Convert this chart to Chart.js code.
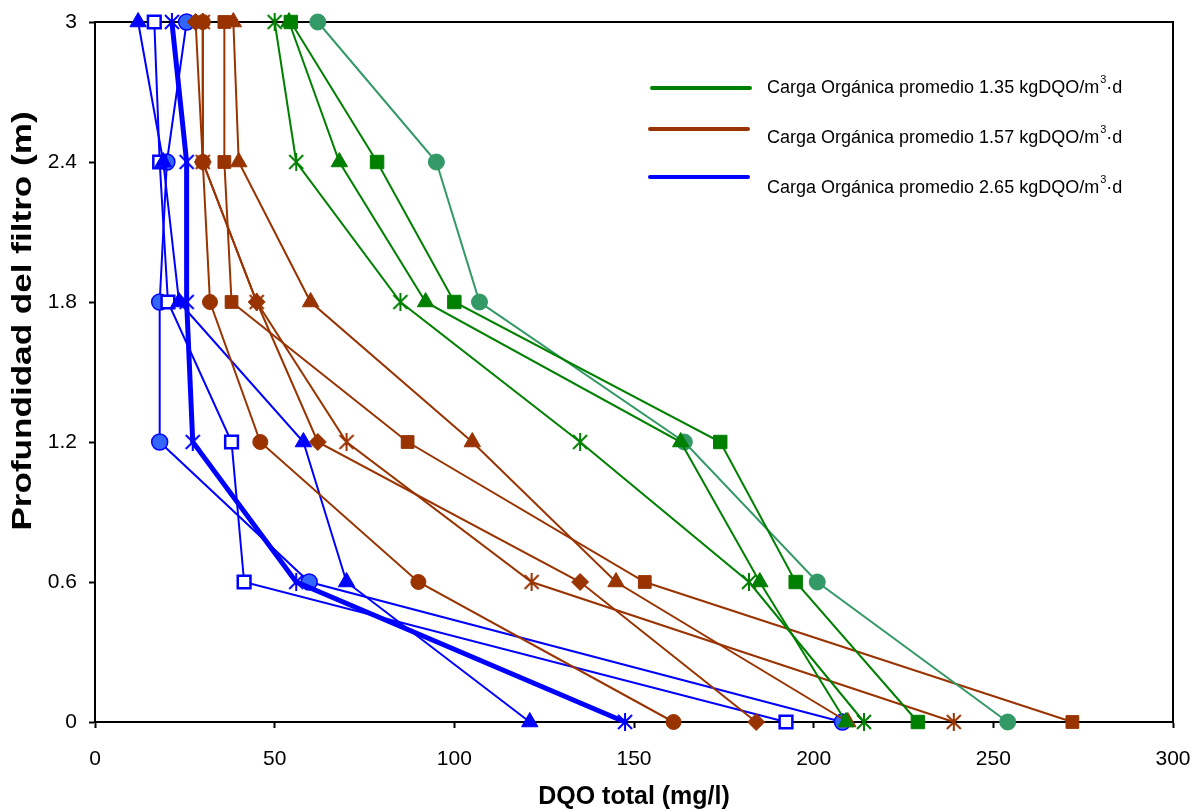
<!DOCTYPE html>
<html>
<head>
<meta charset="utf-8">
<title>DQO total vs profundidad</title>
<script src="https://cdn.jsdelivr.net/npm/chart.js@4.4.1/dist/chart.umd.min.js"></script>
<style>
  body { margin: 0; background: #fff; }
  #wrap { width: 1196px; height: 812px; }
</style>
</head>
<body>
<div id="wrap"><canvas id="chart" width="1196" height="812"></canvas></div>
<script>
// Depth levels (m) and axis ticks
const depths = [3, 2.4, 1.8, 1.2, 0.6, 0];
const xTicks = [0, 50, 100, 150, 200, 250, 300];
const yTicks = [0, 0.6, 1.2, 1.8, 2.4, 3];

// DQO total (mg/l) per depth - carga 1.35
const verdeAsterisco = [50, 56, 85, 135, 182, 214];
const verdeTriangulo = [54, 68, 92, 163, 185, 209];
const verdeCuadrado = [54.5, 78.5, 100, 174, 195, 229];
const verdeCirculo = [62, 95, 107, 164, 201, 254];

// carga 1.57
const marronCirculo = [30, 30, 32, 46, 90, 161];
const marronCuadrado = [36, 36, 38, 87, 153, 272];
const marronTriangulo = [38.5, 40, 60, 105, 145, 209.5];
const marronAsterisco = [30, 30, 45, 70, 121.5, 239];
const marronRombo = [28, 30, 45, 62, 135, 184];

// carga 2.65
const azulTriangulo = [12, 19, 23.4, 58, 70, 121];
const azulCuadrado = [16.5, 18, 20.3, 38, 41.5, 192.3];
const azulAsterisco = [21.4, 25.5, 25.5, 27.2, 56, 147.5];
const azulCirculo = [25.5, 20, 18, 18, 59.6, 208];

const legendLabels = [
  'Carga Orgánica promedio 1.35 kgDQO/m',
  'Carga Orgánica promedio 1.57 kgDQO/m',
  'Carga Orgánica promedio 2.65 kgDQO/m'
];
const xTitle = 'DQO total (mg/l)';
const yTitle = 'Profundidad del filtro (m)';

const GREEN = '#008000', TEAL = '#339966', BROWN = '#993300', BLUE = '#0000ff', LBLUE = '#3366ff';
const FONT = '"Liberation Sans", Arial, sans-serif';

// Excel-like asterisk marker (X + vertical bar)
function asterisk(color, size) {
  const c = document.createElement('canvas');
  c.width = c.height = size;
  const g = c.getContext('2d');
  g.strokeStyle = color;
  g.lineWidth = 2;
  g.beginPath();
  g.moveTo(2, 2); g.lineTo(size - 2, size - 2);
  g.moveTo(size - 2, 2); g.lineTo(2, size - 2);
  g.moveTo(size / 2, 0); g.lineTo(size / 2, size);
  g.stroke();
  return c;
}

function serie(values, color, style, opts = {}) {
  return Object.assign({
    data: values.map((v, i) => ({ x: v, y: depths[i] })),
    borderColor: color,
    borderWidth: 2,
    pointStyle: style,
    pointRadius: 8,
    pointBackgroundColor: color,
    pointBorderColor: color,
    pointBorderWidth: 1,
    clip: false,
    showLine: true
  }, opts);
}

const datasets = [
  serie(verdeAsterisco, GREEN, asterisk(GREEN, 18)),
  serie(verdeTriangulo, GREEN, 'triangle', { pointRadius: 9.5 }),
  serie(verdeCuadrado, GREEN, 'rect', { pointRadius: 9.5 }),
  serie(verdeCirculo, TEAL, 'circle', { pointRadius: 8 }),
  serie(marronCirculo, BROWN, 'circle', { pointRadius: 7.5 }),
  serie(marronCuadrado, BROWN, 'rect', { pointRadius: 9 }),
  serie(marronTriangulo, BROWN, 'triangle', { pointRadius: 9.5 }),
  serie(marronAsterisco, BROWN, asterisk(BROWN, 18)),
  serie(marronRombo, BROWN, 'rectRot', { pointRadius: 8.5 }),
  serie(azulTriangulo, BLUE, 'triangle', { pointRadius: 9.5 }),
  serie(azulCuadrado, BLUE, 'rect', { pointRadius: 9, pointBackgroundColor: '#fff', pointBorderWidth: 2.5 }),
  serie(azulAsterisco, BLUE, asterisk(BLUE, 18), { borderWidth: 5 }),
  serie(azulCirculo, BLUE, 'circle', { pointBackgroundColor: LBLUE, pointBorderWidth: 1.5 })
];

// top/right frame of the plot area
const framePlugin = {
  id: 'frame',
  beforeDatasetsDraw(chart) {
    const { ctx, chartArea: a } = chart;
    ctx.save();
    ctx.strokeStyle = '#000';
    ctx.lineWidth = 2;
    ctx.beginPath();
    ctx.moveTo(a.left, a.top);
    ctx.lineTo(a.right, a.top);
    ctx.lineTo(a.right, a.bottom);
    ctx.stroke();
    ctx.restore();
  }
};

// rotated y title, a bit stretched along its length like the original
const yTitlePlugin = {
  id: 'yTitle',
  afterDraw(chart) {
    const ctx = chart.ctx;
    ctx.save();
    ctx.translate(24, 321);
    ctx.rotate(-Math.PI / 2);
    ctx.scale(1.3, 1);
    ctx.font = 'bold 27px ' + FONT;
    ctx.fillStyle = '#000';
    ctx.textAlign = 'center';
    ctx.textBaseline = 'middle';
    ctx.fillText(yTitle, 0, 0);
    ctx.restore();
  }
};

// legend: coloured line + label with superscript 3
const legendPlugin = {
  id: 'legendLines',
  afterDraw(chart) {
    const ctx = chart.ctx;
    const colors = [GREEN, BROWN, BLUE];
    const lineY = [88, 129, 177];
    const textY = [93, 143, 193];
    ctx.save();
    legendLabels.forEach((label, i) => {
      ctx.strokeStyle = colors[i];
      ctx.lineWidth = 4;
      ctx.lineCap = 'round';
      ctx.beginPath();
      ctx.moveTo(i === 0 ? 652 : 650, lineY[i]);
      ctx.lineTo(i === 0 ? 750 : 748, lineY[i]);
      ctx.stroke();
      ctx.fillStyle = '#000';
      ctx.textBaseline = 'alphabetic';
      ctx.font = '18px ' + FONT;
      let x = 767;
      ctx.fillText(label, x, textY[i]);
      x += ctx.measureText(label).width;
      ctx.font = '11px ' + FONT;
      ctx.fillText('3', x + 1, textY[i] - 10);
      x += ctx.measureText('3').width + 1;
      ctx.font = '18px ' + FONT;
      ctx.fillText('·d', x, textY[i]);
    });
    ctx.restore();
  }
};

new Chart(document.getElementById('chart'), {
  type: 'scatter',
  data: { datasets },
  options: {
    responsive: false,
    animation: false,
    layout: { padding: { top: 22, right: 23, left: 0, bottom: 0 } },
    plugins: { legend: { display: false }, tooltip: { enabled: false } },
    scales: {
      x: {
        type: 'linear',
        min: 0,
        max: 300,
        afterBuildTicks: s => { s.ticks = xTicks.map(v => ({ value: v })); },
        afterFit: s => { s.height = 90; s.paddingLeft = 0; s.paddingRight = 0; },
        ticks: { color: '#000', font: { family: FONT, size: 21 }, padding: 19 },
        grid: { drawOnChartArea: false, tickLength: 6, tickColor: '#000', tickWidth: 2 },
        border: { color: '#000', width: 2 },
        title: {
          display: true,
          text: xTitle,
          color: '#000',
          font: { family: FONT, size: 25, weight: 'bold' },
          padding: { top: 0, bottom: 0 }
        }
      },
      y: {
        type: 'linear',
        min: 0,
        max: 3,
        afterBuildTicks: s => { s.ticks = yTicks.map(v => ({ value: v })); },
        afterFit: s => { s.width = 95; s.paddingTop = 0; s.paddingBottom = 0; },
        ticks: { color: '#000', font: { family: FONT, size: 21 }, padding: 12, callback: v => String(v) },
        grid: { drawOnChartArea: false, tickLength: 6, tickColor: '#000', tickWidth: 2 },
        border: { color: '#000', width: 2 }
      }
    }
  },
  plugins: [framePlugin, yTitlePlugin, legendPlugin]
});
</script>
</body>
</html>
